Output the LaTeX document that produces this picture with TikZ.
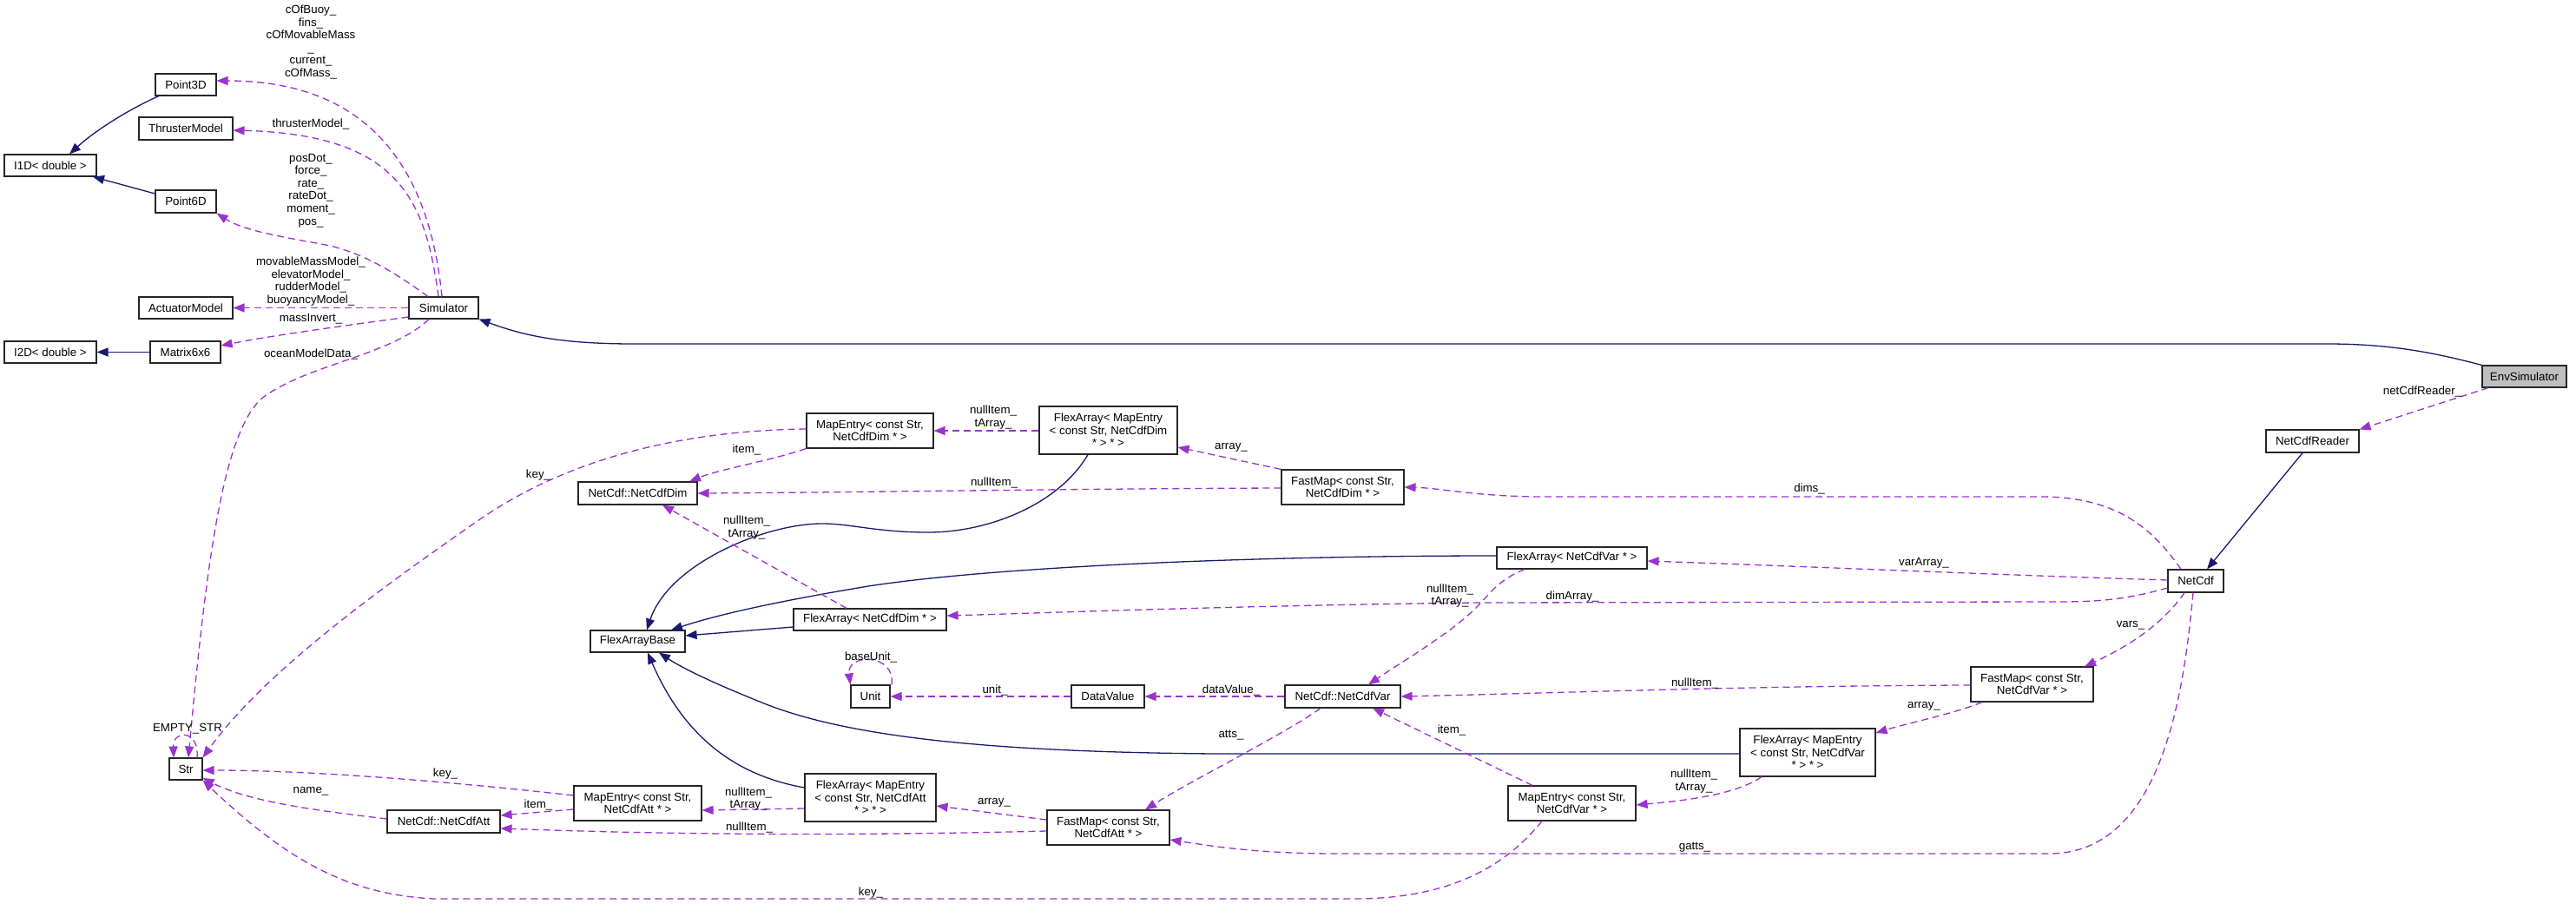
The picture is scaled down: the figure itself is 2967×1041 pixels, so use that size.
\documentclass[tikz,border=0pt]{standalone}
\usepackage{fontspec}
\setmainfont{Liberation Sans}
\usetikzlibrary{arrows.meta}
\definecolor{purp}{HTML}{9A32CD}
\definecolor{mblue}{HTML}{191970}
\definecolor{envgray}{HTML}{BFBFBF}
\newcommand\nodefnt{\fontsize{13.3}{14.6}\selectfont}
\tikzset{
 box/.style={draw=black!85, line width=1.1pt, fill=white, inner sep=0pt, align=center, font=\nodefnt},
 lab/.style={inner sep=0pt, align=center, font=\nodefnt},
 inh/.style={draw=mblue, line width=1.3pt, -{Triangle[length=13pt,width=10pt]}},
 use/.style={draw=purp, line width=1.3pt, dash pattern=on 8pt off 5pt, -{Triangle[length=13pt,width=10pt]}}
}
\begin{document}
\begin{tikzpicture}[x=1pt,y=-1pt]
\useasboundingbox (0,0) rectangle (2967,1041);
\fill[white] (0,0) rectangle (2967,1041);
% nodes
\node[box,minimum width=70pt,minimum height=25pt] (p3d) at (214,97.5) {Point3D};
\node[box,minimum width=108pt,minimum height=26pt] (thr) at (214,148) {ThrusterModel};
\node[box,minimum width=106pt,minimum height=25pt] (i1d) at (58,190.5) {I1D< double >};
\node[box,minimum width=70pt,minimum height=26pt] (p6d) at (214,232) {Point6D};
\node[box,minimum width=108pt,minimum height=25pt] (act) at (214,354.5) {ActuatorModel};
\node[box,minimum width=80pt,minimum height=25pt] (sim) at (511,354.5) {Simulator};
\node[box,minimum width=106pt,minimum height=25pt] (i2d) at (58,405.5) {I2D< double >};
\node[box,minimum width=81pt,minimum height=25pt] (m66) at (213.5,405.5) {Matrix6x6};
\node[box,fill=envgray,minimum width=97pt,minimum height=25pt] (env) at (2907.5,433.5) {EnvSimulator};
\node[box,minimum width=107pt,minimum height=26pt] (ncr) at (2663.5,508) {NetCdfReader};
\node[box,minimum width=64pt,minimum height=26pt] (nc) at (2529,669) {NetCdf};
\node[box,minimum width=146pt,minimum height=40pt] (med) at (1002,496) {MapEntry< const Str,\\NetCdfDim * >};
\node[box,minimum width=159pt,minimum height=55pt] (famd) at (1276.5,495.5) {FlexArray< MapEntry\\< const Str, NetCdfDim\\* > * >};
\node[box,minimum width=137pt,minimum height=26pt] (ncd) at (734.5,568) {NetCdf::NetCdfDim};
\node[box,minimum width=141pt,minimum height=40pt] (fmd) at (1546.5,561) {FastMap< const Str,\\NetCdfDim * >};
\node[box,minimum width=173pt,minimum height=25pt] (fav) at (1810.5,642.5) {FlexArray< NetCdfVar * >};
\node[box,minimum width=176pt,minimum height=25pt] (fad) at (1002,713.5) {FlexArray< NetCdfDim * >};
\node[box,minimum width=109pt,minimum height=25pt] (fab) at (734.5,738.5) {FlexArrayBase};
\node[box,minimum width=45pt,minimum height=26pt] (unit) at (1002.5,802) {Unit};
\node[box,minimum width=84pt,minimum height=26pt] (dv) at (1276,802) {DataValue};
\node[box,minimum width=133pt,minimum height=26pt] (ncv) at (1546.5,802) {NetCdf::NetCdfVar};
\node[box,minimum width=141pt,minimum height=40pt] (fmv) at (2340.5,788) {FastMap< const Str,\\NetCdfVar * >};
\node[box,minimum width=156pt,minimum height=55pt] (famv) at (2082,866.5) {FlexArray< MapEntry\\< const Str, NetCdfVar\\* > * >};
\node[box,minimum width=147pt,minimum height=40pt] (mev) at (1810.5,925) {MapEntry< const Str,\\NetCdfVar * >};
\node[box,minimum width=38pt,minimum height=25pt] (str) at (214,885.5) {Str};
\node[box,minimum width=130pt,minimum height=26pt] (nca) at (511,946) {NetCdf::NetCdfAtt};
\node[box,minimum width=147pt,minimum height=40pt] (mea) at (734.5,925) {MapEntry< const Str,\\NetCdfAtt * >};
\node[box,minimum width=151pt,minimum height=55pt] (fama) at (1002.5,918.5) {FlexArray< MapEntry\\< const Str, NetCdfAtt\\* > * >};
\node[box,minimum width=141pt,minimum height=40pt] (fma) at (1276.5,953) {FastMap< const Str,\\NetCdfAtt * >};
% inheritance
\draw[inh] (p3d.south -| 183,0) .. controls (150,125) and (110,150) .. (i1d.north -| 80,0);
\draw[inh] (p6d.west |- 0,223) -- (i1d.south -| 107,0);
\draw[inh] (m66.west) -- (i2d.east);
\draw[inh] (env.north west) .. controls (2800,405) and (2750,396) .. (2680,396) -- (730,396) .. controls (640,396) and (600,385) .. (sim.south east);
\draw[inh] (famd.south -| 1253,0) .. controls (1220,580) and (1140,613) .. (1069,613) .. controls (1010,613) and (980,603) .. (947,603) .. controls (880,603) and (770,650) .. (fab.north -| 745,0);
\draw[inh] (fav.west |- 0,640) .. controls (1450,640) and (1150,652) .. (1000,675) .. controls (880,695) and (820,710) .. (fab.north -| 773,0);
\draw[inh] (fad.west |- 0,722) -- (fab.east |- 0,732);
\draw[inh] (fama.west |- 0,907) .. controls (830,890) and (780,830) .. (fab.south -| 746,0);
\draw[inh] (famv.west |- 0,868) -- (1400,868) .. controls (1150,866) and (980,850) .. (880,810) .. controls (830,790) and (790,772) .. (fab.south -| 759,0);
\draw[inh] (ncr.south -| 2652,0) -- (nc.north -| 2542,0);
% usage
\draw[use] (sim.north -| 509,0) .. controls (495,200) and (430,93) .. (p3d.east |- 0,93);
\draw[use] (sim.north -| 505,0) .. controls (490,230) and (460,155) .. (thr.east |- 0,150);
\draw[use] (sim.north -| 493,0) .. controls (460,318) and (420,290) .. (370,281) .. controls (320,272) and (280,265) .. (p6d.south east);
\draw[use] (sim.west) -- (act.east);
\draw[use] (sim.west |- 0,365) .. controls (420,372) and (320,385) .. (m66.east |- 0,398);
\draw[use] (sim.south -| 494,0) .. controls (450,410) and (350,420) .. (300,460) .. controls (260,500) and (240,620) .. (str.north -| 217,0);
\draw[use] (med.west |- 0,494) .. controls (780,496) and (650,530) .. (550,600) .. controls (420,690) and (300,780) .. (str.north east);
\draw[use] (str.north -| 227,0) .. controls (230,840) and (199,840) .. (str.north -| 200,0);
\draw[use] (med.south west) .. controls (890,530) and (830,540) .. (ncd.north -| 794,0);
\draw[use] (famd.west |- 0,496) -- (med.east |- 0,496);
\draw[use] (fmd.west |- 0,562) .. controls (1200,563) and (1000,567) .. (ncd.east);
\draw[use] (fmd.north west) -- (famd.east |- 0,515);
\draw[use] (fad.north -| 975,0) -- (ncd.south -| 763,0);
\draw[use] (nc.north -| 2512,0) .. controls (2480,610) and (2440,572) .. (2350,572) -- (1780,572) .. controls (1700,572) and (1660,562) .. (fmd.east);
\draw[use] (nc.west |- 0,668) .. controls (2300,662) and (2100,653) .. (fav.east |- 0,646);
\draw[use] (nc.west |- 0,677) .. controls (2450,690) and (2420,693) .. (2370,693) -- (1700,694) .. controls (1400,698) and (1200,706) .. (fad.east |- 0,709);
\draw[use] (nc.south -| 2516,0) .. controls (2490,720) and (2450,745) .. (fmv.north -| 2401,0);
\draw[use] (nc.south -| 2526,0) .. controls (2515,800) and (2490,983) .. (2360,983) -- (1540,983) .. controls (1450,983) and (1400,975) .. (fma.east |- 0,967);
\draw[use] (fav.south -| 1756,0) .. controls (1725,668) and (1715,685) .. (1700,700) .. controls (1670,730) and (1610,765) .. (ncv.north -| 1576,0);
\draw[use] (fmv.west |- 0,789) .. controls (2000,790) and (1800,798) .. (ncv.east);
\draw[use] (ncv.west) -- (dv.east);
\draw[use] (dv.west) -- (unit.east);
\draw[use] (unit.north -| 1027,0) .. controls (1032,752) and (975,752) .. (unit.north west);
\draw[use] (ncv.south -| 1521,0) .. controls (1480,845) and (1370,900) .. (fma.north -| 1319,0);
\draw[use] (mev.north -| 1765,0) -- (ncv.south -| 1581,0);
\draw[use] (famv.south -| 2029,0) .. controls (2000,915) and (1940,922) .. (mev.east |- 0,927);
\draw[use] (fmv.south -| 2283,0) .. controls (2250,822) and (2200,832) .. (famv.east |- 0,844);
\draw[use] (mev.south -| 1776,0) .. controls (1740,990) and (1680,1035) .. (1560,1035) -- (500,1035) .. controls (400,1030) and (330,990) .. (str.south east);
\draw[use] (mea.west |- 0,916) .. controls (500,898) and (350,887) .. (str.east |- 0,887);
\draw[use] (nca.west |- 0,943) .. controls (380,935) and (290,925) .. (str.east |- 0,896);
\draw[use] (mea.west |- 0,932) -- (nca.east |- 0,939);
\draw[use] (fma.west |- 0,957) .. controls (1000,962) and (800,962) .. (nca.east |- 0,954);
\draw[use] (fama.west |- 0,931) -- (mea.east |- 0,933);
\draw[use] (fma.west |- 0,944) -- (fama.east |- 0,928);
\draw[use] (env.south -| 2866,0) -- (ncr.north east);
% labels
\node[lab] (l1) at (358,48.5) {cOfBuoy\_\\fins\_\\cOfMovableMass\\\_\\current\_\\cOfMass\_};
\node[lab] (l2) at (358,143) {thrusterModel\_};
\node[lab] (l3) at (358,219.5) {posDot\_\\force\_\\rate\_\\rateDot\_\\moment\_\\pos\_};
\node[lab] (l4) at (358,324) {movableMassModel\_\\elevatorModel\_\\rudderModel\_\\buoyancyModel\_};
\node[lab] (l5) at (358,367) {massInvert\_};
\node[lab] (l6) at (358,408) {oceanModelData\_};
\node[lab] (l7) at (216,839) {EMPTY\_STR};
\node[lab] (l8) at (513,891) {key\_};
\node[lab] (l9) at (358,911) {name\_};
\node[lab] (l10) at (620,927) {item\_};
\node[lab] (l11) at (862,920) {nullItem\_\\tArray\_};
\node[lab] (l12) at (863,953) {nullItem\_};
\node[lab] (l13) at (1145,924) {array\_};
\node[lab] (l14) at (1003,1028) {key\_};
\node[lab] (l15) at (1003,757) {baseUnit\_};
\node[lab] (l16) at (1146,795) {unit\_};
\node[lab] (l17) at (620,547) {key\_};
\node[lab] (l18) at (860,518) {item\_};
\node[lab] (l19) at (1144,480.5) {nullItem\_\\tArray\_};
\node[lab] (l20) at (1145,556) {nullItem\_};
\node[lab] (l21) at (860,607.5) {nullItem\_\\tArray\_};
\node[lab] (l22) at (1418,515) {array\_};
\node[lab] (l23) at (2084,563) {dims\_};
\node[lab] (l24) at (1670,686) {nullItem\_\\tArray\_};
\node[lab] (l25) at (1811,687) {dimArray\_};
\node[lab] (l26) at (1418,795) {dataValue\_};
\node[lab] (l27) at (1952,787) {nullItem\_};
\node[lab] (l28) at (1418,847) {atts\_};
\node[lab] (l29) at (1672,841) {item\_};
\node[lab] (l30) at (1951,899.5) {nullItem\_\\tArray\_};
\node[lab] (l31) at (1952,976) {gatts\_};
\node[lab] (l32) at (2216,648) {varArray\_};
\node[lab] (l33) at (2454,720) {vars\_};
\node[lab] (l34) at (2216,813) {array\_};
\node[lab] (l35) at (2790,451) {netCdfReader\_};
\end{tikzpicture}
\end{document}
